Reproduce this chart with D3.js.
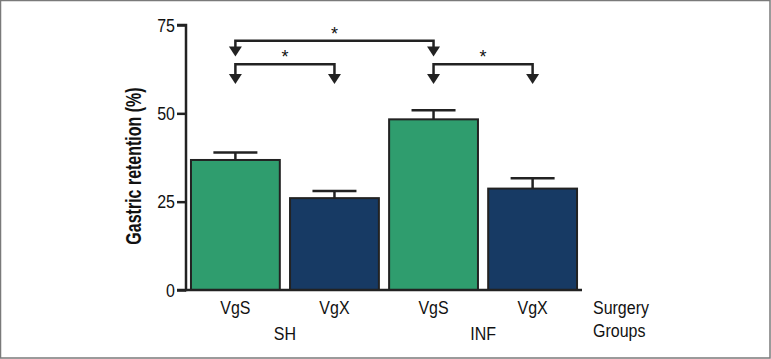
<!DOCTYPE html>
<html>
<head>
<meta charset="utf-8">
<script src="https://cdn.jsdelivr.net/npm/d3@7"></script>
<style>
  body { margin: 0; background: #fff; }
  svg { display: block; font-family: "Liberation Sans", Arial, sans-serif; }
</style>
</head>
<body>
<svg id="chart" width="771" height="359"></svg>
<script>
// data
const groups = ['SH', 'SH', 'INF', 'INF'];
const surgeries = ['VgS', 'VgX', 'VgS', 'VgX'];
const means = [36.8, 26.0, 48.3, 28.7];
const errors = [2.1, 2.0, 2.6, 2.9];
const yTicks = [0, 25, 50, 75];
// significance brackets: [from bar, to bar, level]
const brackets = [[0, 2, 0], [0, 1, 1], [2, 3, 1]];

const colors = ['#2f9d6e', '#173a64', '#2f9d6e', '#173a64'];
const ink = '#222222';

const svg = d3.select('#chart');
const W = 771, H = 359;

svg.append('rect')
  .attr('x', 0.5).attr('y', 0.5)
  .attr('width', W - 1.5).attr('height', H - 1.5)
  .style('fill', 'none')
  .style('stroke', '#7a7a7a')
  .style('stroke-width', 1.5);

const idx = d3.range(means.length);
const x = d3.scaleBand()
  .domain(idx)
  .range([186, 582])
  .paddingInner(0.083)
  .paddingOuter(0.04);
const y = d3.scaleLinear().domain([0, 75]).range([290, 25]);

// text helper: labels in the reference are slightly tall/condensed
const label = (g, px, py, txt, opts = {}) => g.append('text')
  .attr('transform', `translate(${px},${py}) ${opts.rotate ? 'rotate(-90)' : ''} scale(1,${opts.sy || 1.1})`)
  .style('text-anchor', opts.anchor || 'middle')
  .style('font-size', (opts.size || 16) + 'px')
  .style('font-weight', opts.bold ? 'bold' : 'normal')
  .style('fill', '#111')
  .text(txt);

// bars
svg.append('g')
  .selectAll('rect')
  .data(idx)
  .enter().append('rect')
  .attr('x', i => x(i) + 1)
  .attr('y', i => y(means[i]))
  .attr('width', x.bandwidth() - 2)
  .attr('height', i => y(0) - y(means[i]))
  .style('fill', i => colors[i])
  .style('stroke', ink)
  .style('stroke-width', 2);

// error bars (upper only)
const eb = svg.append('g').style('stroke', ink).style('stroke-width', 2.5);
idx.forEach(i => {
  const cx = x(i) + x.bandwidth() / 2;
  eb.append('line')
    .attr('x1', cx).attr('x2', cx)
    .attr('y1', y(means[i])).attr('y2', y(means[i] + errors[i]));
  eb.append('line')
    .attr('x1', cx - 22).attr('x2', cx + 22)
    .attr('y1', y(means[i] + errors[i])).attr('y2', y(means[i] + errors[i]));
});

// axes
const yAxis = d3.axisLeft(y).tickValues(yTicks).tickSize(9).tickFormat('');
const gy = svg.append('g').attr('transform', 'translate(186,0)').call(yAxis);
gy.select('.domain').attr('d', 'M-9,25H0V290H-9').style('stroke', ink).style('stroke-width', 2.5);
gy.selectAll('.tick line').style('stroke', ink).style('stroke-width', 2.5);
const tl = svg.append('g');
yTicks.forEach(t => {
  label(tl, 175, y(t) + 6.5, d3.format('d')(t), { anchor: 'end', size: 16, sy: 1.12 });
});

svg.append('line')
  .attr('x1', 185).attr('x2', 582)
  .attr('y1', y(0)).attr('y2', y(0))
  .style('stroke', ink).style('stroke-width', 2.5);

// category labels
const cl = svg.append('g');
idx.forEach(i => label(cl, x(i) + x.bandwidth() / 2, 314, surgeries[i]));

const groupNames = Array.from(new Set(groups));
groupNames.forEach(g => {
  const members = idx.filter(i => groups[i] === g);
  const cx = d3.mean(members, i => x(i) + x.bandwidth() / 2);
  label(cl, cx, 340, g);
});

label(svg, 593, 314, 'Surgery', { anchor: 'start' });
label(svg, 593, 337, 'Groups', { anchor: 'start' });

// y label
label(svg, 133, 166, 'Gastric retention (%)', { rotate: true, bold: true, size: 16, sy: 1.35 })
  .attr('dy', '0.35em');

// significance brackets
const levelY = [40.7, 64.3];
const arrowTip = [56.5, 84];
const bg = svg.append('g');
brackets.forEach(([a, b, lv]) => {
  const xa = x(a) + x.bandwidth() / 2;
  const xb = x(b) + x.bandwidth() / 2;
  const yl = levelY[lv];
  const tip = arrowTip[lv];
  bg.append('path')
    .attr('d', `M${xa},${tip - 8}V${yl}H${xb}V${tip - 8}`)
    .style('fill', 'none')
    .style('stroke', ink)
    .style('stroke-width', 2.5);
  [xa, xb].forEach(cx => {
    bg.append('path')
      .attr('d', `M${cx - 6.5},${tip - 10}L${cx + 6.5},${tip - 10}L${cx},${tip}Z`)
      .style('fill', ink);
  });
  label(bg, (xa + xb) / 2, yl - 1, '*', { size: 18, sy: 1 });
});
</script>
</body>
</html>
